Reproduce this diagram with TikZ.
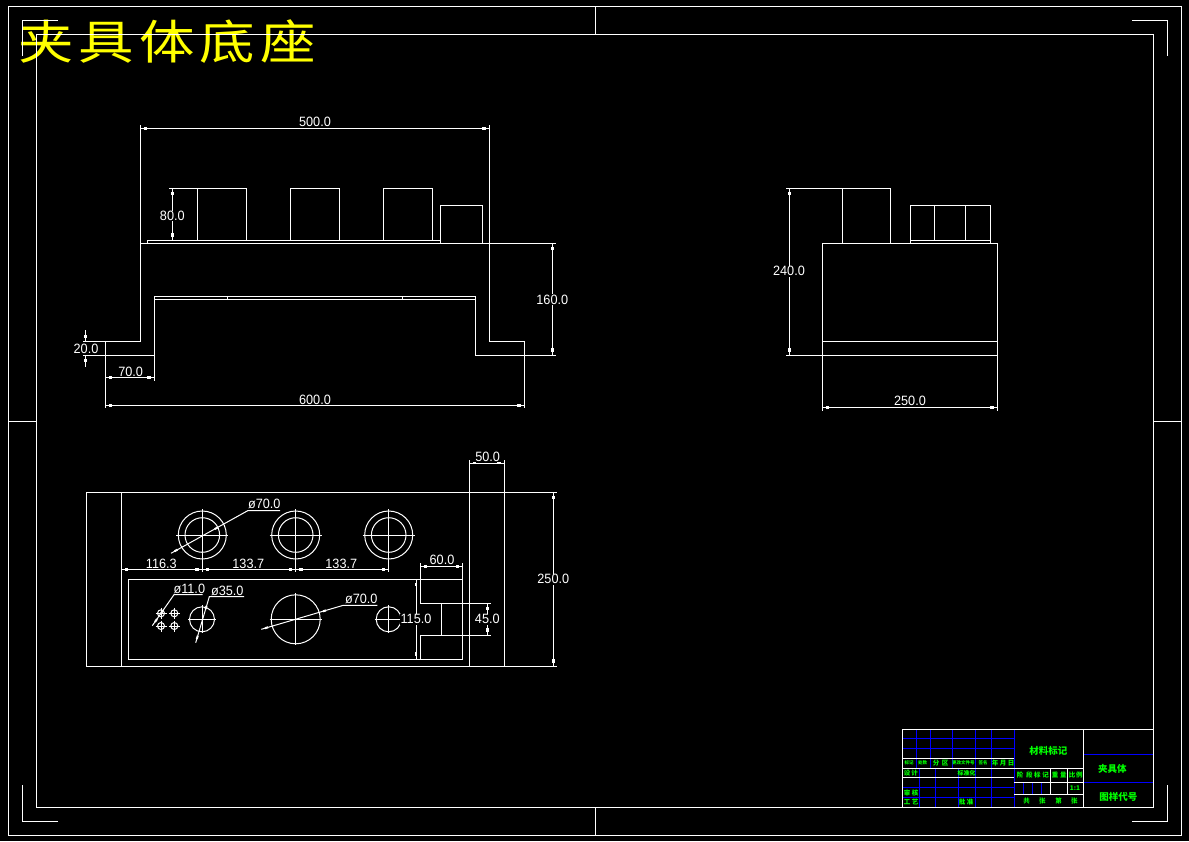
\documentclass[tikz,border=0pt]{standalone}
\usepackage{fontspec}
\setmainfont{Liberation Sans}
\newfontfamily\dimf[FakeStretch=0.94]{Liberation Sans}
\newfontfamily\titf[FakeStretch=1.18]{Noto Sans CJK SC}
\newfontfamily\cjkf{Noto Sans CJK SC}
\newcommand\dimH[3]{\draw[thin line] (#1,#3) -- (#2,#3);\draw[ah] (#1,#3) ++(3.5,0) -- ++(3.5,0);\draw[ah] (#2,#3) ++(-3.5,0) -- ++(-3.5,0);}
\newcommand\dimV[3]{\draw[thin line] (#3,#1) -- (#3,#2);\draw[ah] (#3,#1) ++(0,3.5) -- ++(0,3.5);\draw[ah] (#3,#2) ++(0,-3.5) -- ++(0,-3.5);}
\newcommand\crossc[4]{\draw[thin line] (#1,#2) circle[radius=#3];\draw[thin line] (#1-#4,#2) -- (#1+#4,#2) (#1,#2-#4) -- (#1,#2+#4);}
\begin{document}
\begin{tikzpicture}[x=1pt,y=-1pt,
  thin line/.style={draw=white,line width=1pt},
  blue line/.style={draw=blue,line width=1pt},
  ah/.style={draw=white,line width=2.8pt},
  dimt/.style={font=\dimf\fontsize{13.5}{14}\selectfont,text=white,inner sep=0.5pt},
  dimb/.style={dimt,fill=black},
  gbig/.style={font=\cjkf\bfseries\fontsize{9.5}{10}\selectfont,text=green,inner sep=0pt},
  gsm/.style={font=\cjkf\bfseries\fontsize{4.5}{6}\selectfont,text=green,inner sep=0pt},
  gone/.style={font=\cjkf\bfseries\fontsize{6.5}{7}\selectfont,text=green,inner sep=0pt}]
\useasboundingbox (0,0) rectangle (1189,841);
\fill[black] (0,0) rectangle (1189,841);
% title
\node[font=\titf\fontsize{47}{50}\selectfont,text={rgb,1:red,1;green,1;blue,0},inner sep=0pt] (title) at (167,41.5) {夹\hspace{5pt}具\hspace{5pt}体\hspace{5pt}底\hspace{5pt}座};
% frame
\draw[thin line] (8,6) rectangle (1181,835);
\draw[thin line] (36,34) rectangle (1153,807);
\draw[thin line] (58,20) -- (22,20) -- (22,56);
\draw[thin line] (1132,20) -- (1167,20) -- (1167,56);
\draw[thin line] (58,821) -- (22,821) -- (22,785);
\draw[thin line] (1132,821) -- (1167,821) -- (1167,785);
\draw[thin line] (595.5,6) -- (595.5,34) (595.5,807) -- (595.5,835) (8,421) -- (36,421) (1153,421) -- (1181,421);
% front view
\draw[thin line] (140.3,125) -- (140.3,341.3) -- (83,341.3);
\draw[thin line] (489.3,125) -- (489.3,341.3) -- (524.3,341.3) -- (524.3,408);
\draw[thin line] (105.3,341.3) -- (105.3,408);
\draw[thin line] (140.3,243.3) -- (556,243.3);
\draw[thin line] (83,355.3) -- (154.3,355.3);
\draw[thin line] (154.3,380.7) -- (154.3,296.7) -- (475.3,296.7) -- (475.3,355.3) -- (556,355.3);
\draw[thin line] (154.3,299.7) -- (475.3,299.7);
\draw[thin line] (227.3,296.7) -- (227.3,299.7) (402.3,296.7) -- (402.3,299.7);
\draw[thin line] (147.3,243.3) -- (147.3,240.3) -- (440.3,240.3);
\draw[thin line] (169,188.3) -- (246.7,188.3) -- (246.7,240.3) (197.3,188.3) -- (197.3,240.3);
\draw[thin line] (290.3,240.3) -- (290.3,188.3) -- (339.3,188.3) -- (339.3,240.3);
\draw[thin line] (383.3,240.3) -- (383.3,188.3) -- (432.3,188.3) -- (432.3,240.3);
\draw[thin line] (440.3,243.3) -- (440.3,205.3) -- (482.3,205.3) -- (482.3,243.3);
\dimH{140.3}{489.3}{128.3}
\dimH{105.3}{154.3}{377.3}
\dimH{105.3}{524.3}{405.3}
\dimV{188.3}{240.3}{172.3}
\dimV{243.3}{355.3}{552.3}
\draw[thin line] (85.7,330) -- (85.7,341.3) (85.7,355.3) -- (85.7,366.7);
\draw[ah] (85.7,335) -- (85.7,338) (85.7,358.5) -- (85.7,361.5);
\node[dimt] (d500) at (315,122) {500.0};
\node[dimt] (d600) at (315,400) {600.0};
\node[dimt] (d70) at (130.7,371.7) {70.0};
\node[dimb] (d80) at (172.3,216) {80.0};
\node[dimb] (d160) at (552.3,299.7) {160.0};
\node[dimt] (d20) at (86,348.5) {20.0};
% side view
\draw[thin line] (822.3,243.3) rectangle (997.3,355.3);
\draw[thin line] (822.3,341.3) -- (997.3,341.3);
\draw[thin line] (822.3,355.3) -- (822.3,410.7) (997.3,355.3) -- (997.3,410.7);
\draw[thin line] (786,355.3) -- (822.3,355.3);
\draw[thin line] (786,188.3) -- (890.7,188.3) -- (890.7,243.3) (842.3,188.3) -- (842.3,243.3);
\draw[thin line] (910.3,243.3) -- (910.3,205.3) -- (990.7,205.3) -- (990.7,243.3);
\draw[thin line] (910.3,240.3) -- (990.7,240.3);
\draw[thin line] (934.3,205.3) -- (934.3,240.3) (965.3,205.3) -- (965.3,240.3);
\dimV{188.3}{355.3}{789.3}
\dimH{822.3}{997.3}{407.3}
\node[dimb] (d240) at (789,271.3) {240.0};
\node[dimt] (d250a) at (910,401.3) {250.0};
% top view
\draw[thin line] (86.3,492.3) rectangle (504.3,666.3);
\draw[thin line] (121.3,492.3) -- (121.3,666.3);
\draw[thin line] (504.3,492.3) -- (556.7,492.3) (504.3,666.3) -- (556.7,666.3);
\draw[thin line] (469.3,460) -- (469.3,666.3) (504.3,460) -- (504.3,492.3);
\foreach \cx in {202.3,295.7,388.7}{
  \draw[thin line] (\cx,535) circle[radius=24] (\cx,535) circle[radius=17.3];
  \draw[thin line] (\cx-26,535) -- (\cx+26,535) (\cx,509) -- (\cx,572);
}
\dimH{121.3}{202.3}{569.3}
\dimH{202.3}{295.7}{569.3}
\dimH{295.7}{388.7}{569.3}
\draw[thin line] (128.3,579.3) rectangle (462.7,659.3);
\draw[thin line] (462.7,563) -- (462.7,579.3);
\draw[thin line] (420.3,563) -- (420.3,603.3) -- (491,603.3);
\draw[thin line] (420.3,659.3) -- (420.3,635.3) -- (491,635.3);
\draw[thin line] (441.3,603.3) -- (441.3,635.3);
\crossc{295.7}{619.3}{24.5}{26}
\crossc{202}{619.3}{12.5}{14}
\crossc{388.7}{619.3}{12.5}{14}
\foreach \hx in {161,174.3}{\foreach \hy in {613.3,626}{\crossc{\hx}{\hy}{3.5}{5.5}}}
\draw[thin line] (171,553.3) -- (247.7,510.7) -- (280,510.7);
\draw[ah,line width=2pt] (171,553.3) ++(3.5,-2) -- ++(3,-1.7) (247.7,510.7) ++(-30,16.7) -- ++(-3,1.7);
\draw[thin line] (152.3,625.7) -- (174,594.7) -- (202.7,594.7);
\draw[ah,line width=2pt] (155,622) -- (157,619) (161,613.3) -- (163,610.4);
\draw[thin line] (195.7,642.7) -- (209.3,596.7) -- (244,596.7);
\draw[ah,line width=2pt] (196.8,639) -- (197.7,636) (205.6,609) -- (206.5,606);
\draw[thin line] (261.3,629.3) -- (343.3,605.3) -- (377.3,605.3);
\draw[ah,line width=2pt] (265,628.2) -- (268,627.3) (323,611.3) -- (326,610.4);
\dimH{420.3}{462.7}{566.3}
\dimH{469.3}{504.3}{463}
\dimV{579.3}{659.3}{416}
\dimV{603.3}{635.3}{487.3}
\dimV{492.3}{666.3}{553.3}
\node[dimt] (phi70a) at (264.3,504) {ø70.0};
\node[dimt] (d1163) at (161.3,563.7) {116.3};
\node[dimt] (d1337a) at (248.3,563.7) {133.7};
\node[dimt] (d1337b) at (341.3,563.7) {133.7};
\node[dimt] (phi11) at (189.3,588.7) {ø11.0};
\node[dimt] (phi35) at (227.3,590.7) {ø35.0};
\node[dimt] (phi70b) at (361.3,599.3) {ø70.0};
\node[dimt] (d60) at (442,560.3) {60.0};
\node[dimt] (d50) at (487.7,457.3) {50.0};
\node[dimb] (d115) at (416,619.3) {115.0};
\node[dimb] (d45) at (487.3,619.3) {45.0};
\node[dimb] (d250b) at (553.3,579.3) {250.0};
% title block: blue
\draw[blue line] (902.3,738.3) -- (1014.3,738.3) (902.3,748.3) -- (1014.3,748.3) (902.3,787.3) -- (1014.3,787.3) (902.3,797.3) -- (1014.3,797.3);
\foreach \bx in {916.3,930.3,952.3}{\draw[blue line] (\bx,729.3) -- (\bx,768.3);}
\foreach \bx in {975.3,991.3,1014.3}{\draw[blue line] (\bx,729.3) -- (\bx,807.3);}
\foreach \bx in {919.3,935.3,958.3}{\draw[blue line] (\bx,768.3) -- (\bx,807.3);}
\foreach \bx in {1023.3,1032.3,1041.3}{\draw[blue line] (\bx,782.3) -- (\bx,794.3);}
\draw[blue line] (1083.3,754.3) -- (1153.3,754.3) (1083.3,782.3) -- (1153.3,782.3);
% title block: white
\draw[thin line] (902.3,729.3) rectangle (1153.3,807.3);
\draw[thin line] (1083.3,729.3) -- (1083.3,807.3);
\draw[thin line] (902.3,758.3) -- (1014.3,758.3) (902.3,768.3) -- (1083.3,768.3) (902.3,777.3) -- (1014.3,777.3);
\draw[thin line] (1014.3,782.3) -- (1083.3,782.3) (1014.3,794.3) -- (1083.3,794.3);
\draw[thin line] (1050.3,768.3) -- (1050.3,794.3) (1067.3,768.3) -- (1067.3,794.3);
% title block: text
\node[gbig] (tb1) at (1048.3,751) {材料标记};
\node[gbig] (tb2) at (1112.3,769) {夹具体};
\node[gbig] (tb3) at (1118.3,797) {图样代号};
\node[gsm] (s1) at (909,762.7) {标记};
\node[gsm] (s2) at (922.7,762.7) {处数};
\node[gone] (s3) at (936,762.7) {分};
\node[gone] (s4) at (945,762.7) {区};
\node[gsm] (s5) at (963.3,762.7) {更改文件号};
\node[gsm] (s6) at (983,762.7) {签名};
\node[gone] (s7) at (995,762.7) {年};
\node[gone] (s8) at (1003,762.7) {月};
\node[gone] (s9) at (1011,762.7) {日};
\node[gone] (s10) at (907,772.7) {设};
\node[gone] (s11) at (914.7,772.7) {计};
\node[gsm,font=\cjkf\bfseries\fontsize{6}{7}\selectfont] (s12) at (966.7,772.7) {标准化};
\node[gone] (s13) at (907,792.7) {审};
\node[gone] (s14) at (915,792.7) {核};
\node[gone] (s15) at (907,802) {工};
\node[gone] (s16) at (915,802) {艺};
\node[gone] (s17) at (962,802) {批};
\node[gone] (s18) at (970,802) {准};
\node[gone] (s19) at (1020,775.3) {阶};
\node[gone] (s20) at (1029.3,775.3) {段};
\node[gone] (s21) at (1037.3,775.3) {标};
\node[gone] (s22) at (1045.7,775.3) {记};
\node[gone] (s23) at (1055,775.3) {重};
\node[gone] (s24) at (1063.3,775.3) {量};
\node[gone] (s25) at (1072,775.3) {比};
\node[gone] (s26) at (1079.3,775.3) {例};
\node[gone] (s27) at (1075,788) {1:1};
\node[gone] (s28) at (1026.7,801.3) {共};
\node[gone] (s29) at (1042.3,801.3) {张};
\node[gone] (s30) at (1058.7,801.3) {第};
\node[gone] (s31) at (1074.3,801.3) {张};
\end{tikzpicture}
\end{document}
